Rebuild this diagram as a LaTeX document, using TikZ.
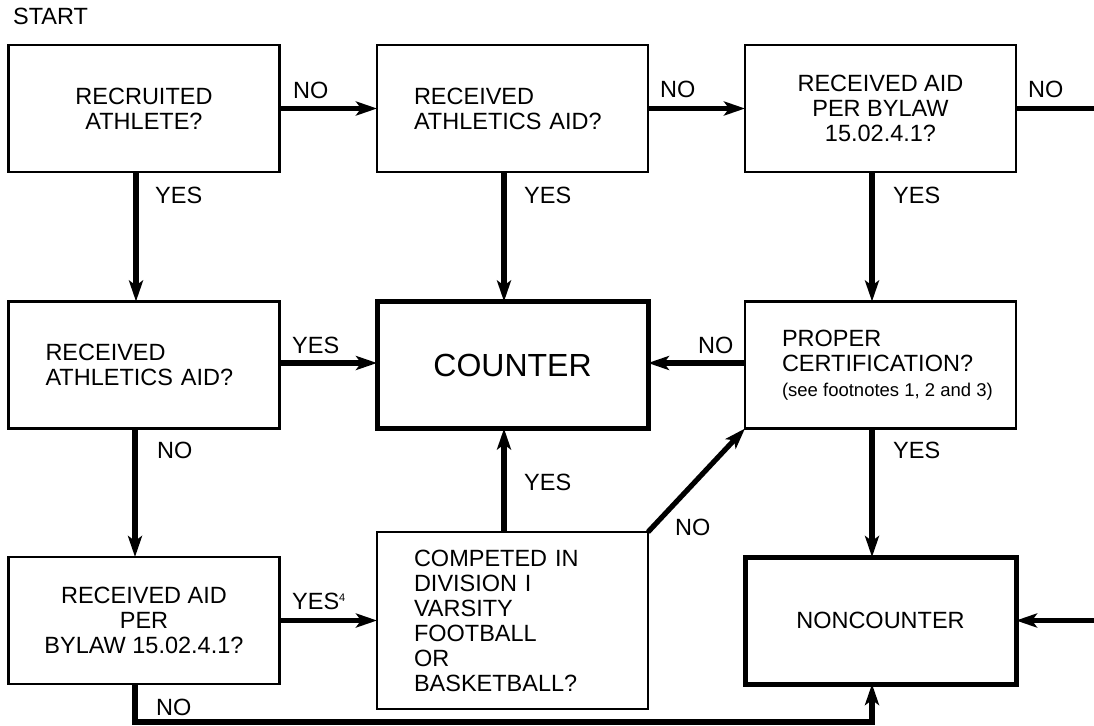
\documentclass[tikz,border=0pt]{standalone}
\usepackage{fontspec}
\setmainfont{Liberation Sans}
\usetikzlibrary{arrows.meta}
\begin{document}
\begin{tikzpicture}[x=1pt,y=-1pt,
  box/.style={draw=black, line width=2.2pt, rectangle, minimum width=271pt, minimum height=127pt, inner sep=0pt, outer sep=0pt, font=\fontsize{23.5}{25}\selectfont},
  cbox/.style={box, align=center},
  lbox/.style={box, align=left, text width=197pt, inner xsep=37pt},
  tbox/.style={box, line width=5pt},
  arr/.style={line width=5.2pt, -{Stealth[length=21pt,width=14pt,inset=5pt]}},
  conn/.style={line width=5.2pt},
  lab/.style={anchor=base west, inner sep=0pt, font=\fontsize{23.5}{25}\selectfont}
]
\useasboundingbox (0,0) rectangle (1094,725);

\node[cbox] (A) at (144,108.5) {RECRUITED\\ATHLETE?};
\node[lbox] (B) at (512.5,108.5) {RECEIVED\\ATHLETICS AID?};
\node[cbox] (C) at (880.5,108.5) {RECEIVED AID\\PER BYLAW\\15.02.4.1?};
\node[lbox] (D) at (144,365) {RECEIVED\\ATHLETICS AID?};
\node[tbox, align=center, font=\fontsize{32}{36}\selectfont] (CT) at (512.5,365) {COUNTER};
\node[lbox] (F) at (880.5,365) {PROPER\\CERTIFICATION?\\{\fontsize{18.5}{20}\selectfont\spaceskip=0pt\xspaceskip=0pt\relax\mbox{(see footnotes 1, 2 and 3)}}};
\node[cbox] (G) at (144,620.5) {RECEIVED AID\\PER\\BYLAW 15.02.4.1?};
\node[lbox, minimum height=177pt] (H) at (512.5,620.5) {COMPETED IN\\DIVISION I\\VARSITY\\FOOTBALL\\OR\\BASKETBALL?};
\node[tbox, align=center] (NC) at (880.5,620.5) {NONCOUNTER};

\coordinate (outC) at (1094,108.5);
\coordinate (inNC) at (1094,620.5);
\coordinate (bot) at (500,722);

\draw[arr] (A.east) -- (B.west);
\draw[arr] (B.east) -- (C.west);
\draw[conn] (C.east) -- (outC);
\draw[arr] ([xshift=-8pt]A.south) -- ([xshift=-8pt]D.north);
\draw[arr] ([xshift=-8.5pt]B.south) -- ([xshift=-8.5pt]CT.north);
\draw[arr] ([xshift=-8.5pt]C.south) -- ([xshift=-8.5pt]F.north);
\draw[arr] ([yshift=2pt]D.east) -- ([yshift=2pt]CT.west);
\draw[arr] ([yshift=2pt]F.west) -- ([yshift=2pt]CT.east);
\draw[arr] ([xshift=-9pt]D.south) -- ([xshift=-9pt]G.north);
\draw[arr] ([xshift=-8.5pt]F.south) -- ([xshift=-8.5pt]NC.north);
\draw[arr] (G.east) -- (H.west);
\draw[arr] ([xshift=-8.5pt]H.north) -- ([xshift=-8.5pt]CT.south);
\draw[arr] (H.north east) -- (F.south west);
\draw[arr] ([xshift=-9pt]G.south) |- (bot) -| ([xshift=-8.5pt]NC.south);
\draw[arr] (inNC) -- (NC.east);

\node[lab] (lstart) at (13,25) {START};
\node[lab] (l1) at (293,98) {NO};
\node[lab] (l2) at (660,97) {NO};
\node[lab] (l3) at (1028,97) {NO};
\node[lab] (l4) at (155,203) {YES};
\node[lab] (l5) at (524,203) {YES};
\node[lab] (l6) at (893,203) {YES};
\node[lab] (l7) at (292,353) {YES};
\node[lab] (l8) at (698,353) {NO};
\node[lab] (l9) at (157,458) {NO};
\node[lab] (l10) at (893,458) {YES};
\node[lab] (l11) at (524,490) {YES};
\node[lab] (l12) at (675,535) {NO};
\node[lab] (l13) at (292,609) {YES\raisebox{8pt}{\fontsize{11}{11}\selectfont 4}};
\node[lab] (l14) at (156,715) {NO};
\end{tikzpicture}
\end{document}
